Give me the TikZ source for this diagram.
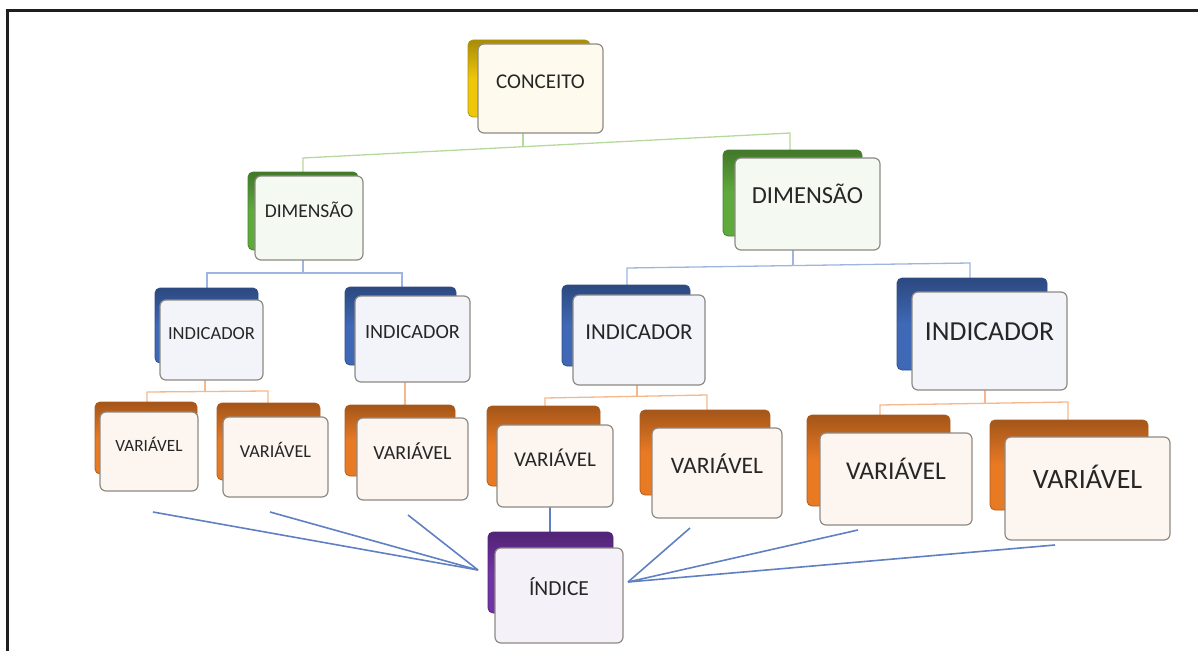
\documentclass[tikz,border=0pt]{standalone}
\usepackage{fontspec}
\setmainfont{Carlito}
\usetikzlibrary{fit}
\pgfdeclarelayer{background}
\pgfsetlayers{background,main}
\definecolor{cYel}{HTML}{EFC70A}
\definecolor{cGrn}{HTML}{5EAB3C}
\definecolor{cBlu}{HTML}{3F68B6}
\definecolor{cOrg}{HTML}{E97A24}
\definecolor{cPur}{HTML}{7233A6}
\definecolor{boxline}{HTML}{8E8A84}
\definecolor{txtgray}{HTML}{262626}
\definecolor{lGrn}{HTML}{B5D99C}
\definecolor{lBlu}{HTML}{9DB5E0}
\definecolor{lOrg}{HTML}{F5B88C}
\definecolor{lIdx}{HTML}{5F80C2}
\tikzset{
  backbox/.style={rounded corners=5pt, draw=#1!75!black, line width=0.8pt,
    top color=#1!70!black, bottom color=#1, middle color=#1},
  frontbox/.style={draw=boxline, line width=1.2pt, rounded corners=6pt,
    fill=#1!7, inner sep=0pt, text=txtgray},
  gline/.style={draw=lGrn, line width=1.3pt},
  bline/.style={draw=lBlu, line width=1.3pt},
  oline/.style={draw=lOrg, line width=1.3pt},
  iline/.style={draw=lIdx, line width=1.6pt},
  frameline/.style={draw=black!88, line width=3pt}
}
% #1 name, #2 colour, #3 #4 back corners, #5 #6 front corners, #7 font size, #8 text
\newcommand\tbox[8]{%
  \draw[backbox=#2] #3 rectangle #4;
  \path #5 coordinate (#1-nw) #6 coordinate (#1-se);
  \node[frontbox=#2, fit=(#1-nw)(#1-se), font=\fontsize{#7}{#7}\selectfont] (#1) {#8};
}
\begin{document}
\begin{tikzpicture}[x=1pt,y=-1pt]
\useasboundingbox (0,0) rectangle (1198,650);
\draw[frameline] (7,652) -- (7,11) -- (1200,11);

% boxes
\tbox{conceito}{cYel}{(468,40)}{(590,117)}{(478,44)}{(603,133)}{21}{CONCEITO}
\tbox{dimL}{cGrn}{(248,172)}{(358,250)}{(255,176)}{(363,260)}{19.5}{DIMENSÃO}
\tbox{dimR}{cGrn}{(723,150)}{(862,236)}{(735,158)}{(880,250)}{24.5}{DIMENSÃO}
\tbox{ind1}{cBlu}{(155,288)}{(258,363)}{(160,300)}{(263,380)}{18.5}{INDICADOR}
\tbox{ind2}{cBlu}{(345,287)}{(456,365)}{(355,296)}{(470,382)}{20.2}{INDICADOR}
\tbox{ind3}{cBlu}{(562,285)}{(690,366)}{(573,295)}{(705,385)}{22.8}{INDICADOR}
\tbox{ind4}{cBlu}{(897,278)}{(1047,370)}{(912,292)}{(1067,390)}{27.5}{INDICADOR}
\tbox{v1}{cOrg}{(95,402)}{(197,474)}{(100,412)}{(198,491)}{17.2}{VARIÁVEL}
\tbox{v2}{cOrg}{(217,403)}{(320,480)}{(223,417)}{(328,497)}{18.2}{VARIÁVEL}
\tbox{v3}{cOrg}{(345,405)}{(455,476)}{(357,418)}{(468,500)}{20}{VARIÁVEL}
\tbox{v4}{cOrg}{(487,406)}{(600,486)}{(497,425)}{(613,507)}{21}{VARIÁVEL}
\tbox{v5}{cOrg}{(640,410)}{(770,495)}{(652,428)}{(782,518)}{23.6}{VARIÁVEL}
\tbox{v6}{cOrg}{(807,415)}{(950,506)}{(820,433)}{(972,525)}{25.6}{VARIÁVEL}
\tbox{v7}{cOrg}{(990,420)}{(1148,510)}{(1005,437)}{(1170,540)}{28}{VARIÁVEL}
\tbox{indice}{cPur}{(488,532)}{(613,613)}{(495,548)}{(623,643)}{21.5}{ÍNDICE}

% bus coordinates
\coordinate (c1) at (523,146.7);
\coordinate (bL) at (303,158);
\coordinate (bR) at (790,133);
\coordinate (dL1) at (303,273);
\coordinate (iL1) at (207,273);
\coordinate (iL2) at (402,273);
\coordinate (dR1) at (793,265.6);
\coordinate (iR1) at (627,268);
\coordinate (iR2) at (970,263);
\coordinate (i1) at (205,391.5);
\coordinate (v1b) at (147,392);
\coordinate (v2b) at (268,391);
\coordinate (k3) at (405,395);
\coordinate (i3) at (637,396.5);
\coordinate (v4b) at (545,398);
\coordinate (v5b) at (707,395);
\coordinate (i4) at (985,403.5);
\coordinate (v6b) at (880,405);
\coordinate (v7b) at (1068,402);
\coordinate (k4) at (550,520);
\coordinate (pL) at (478,570);
\coordinate (pR) at (628,582);
\coordinate (s1) at (153,512);
\coordinate (s2) at (270,512);
\coordinate (s3) at (408,515);
\coordinate (s5) at (690,528);
\coordinate (s6) at (858,530);
\coordinate (s7) at (1055,545);

\begin{pgfonlayer}{background}
  \draw[gline] (c1 |- conceito) -- (c1);
  \draw[gline] (bL |- dimL) -- (bL) -- (bR) -- (bR |- dimR);
  \draw[bline] (dL1 |- dimL) -- (dL1);
  \draw[bline] (iL1 |- ind1) -- (iL1) -- (iL2) -- (iL2 |- ind2);
  \draw[bline] (dR1 |- dimR) -- (dR1);
  \draw[bline] (iR1 |- ind3) -- (iR1) -- (iR2) -- (iR2 |- ind4);
  \draw[oline] (i1 |- ind1) -- (i1);
  \draw[oline] (v1b |- v1) -- (v1b) -- (v2b) -- (v2b |- v2);
  \draw[oline] (k3 |- ind2) -- (k3 |- v3);
  \draw[oline] (i3 |- ind3) -- (i3);
  \draw[oline] (v4b |- v4) -- (v4b) -- (v5b) -- (v5b |- v5);
  \draw[oline] (i4 |- ind4) -- (i4);
  \draw[oline] (v6b |- v6) -- (v6b) -- (v7b) -- (v7b |- v7);
  \draw[iline] (k4 |- v4) -- (k4 |- indice);
\end{pgfonlayer}
\draw[iline] (s1) -- (pL);
\draw[iline] (s2) -- (pL);
\draw[iline] (s3) -- (pL);
\draw[iline] (s5) -- (pR);
\draw[iline] (s6) -- (pR);
\draw[iline] (s7) -- (pR);
\end{tikzpicture}
\end{document}
